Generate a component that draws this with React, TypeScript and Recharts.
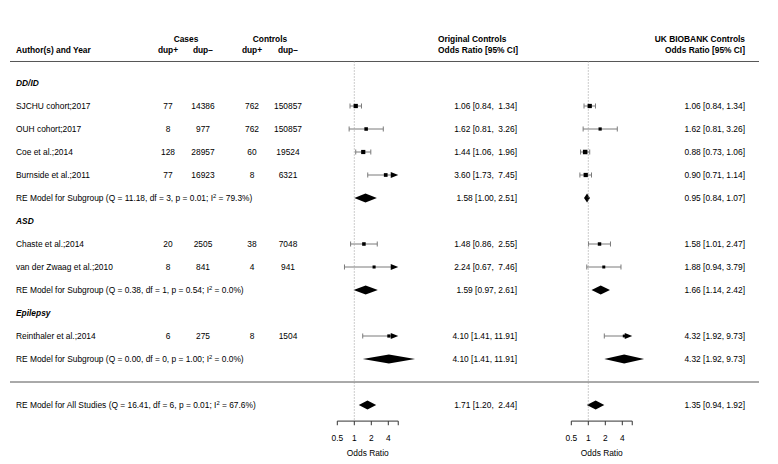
import React from 'react';
import { ComposedChart, XAxis, YAxis, Scatter, ReferenceArea, ReferenceLine } from 'recharts';

// ---- data ----
const GROUPS = ['DD/ID', 'ASD', 'Epilepsy'];

const STUDIES = [
  'SJCHU cohort;2017',
  'OUH cohort;2017',
  'Coe et al.;2014',
  'Burnside et al.;2011',
  'Chaste et al.;2014',
  'van der Zwaag et al.;2010',
  'Reinthaler et al.;2014',
];
const STUDY_GROUP = ['DD/ID', 'DD/ID', 'DD/ID', 'DD/ID', 'ASD', 'ASD', 'Epilepsy'];

const CASE_DUP_POS = [77, 8, 128, 77, 20, 8, 6];
const CASE_DUP_NEG = [14386, 977, 28957, 16923, 2505, 841, 275];
const CTRL_DUP_POS = [762, 762, 60, 8, 38, 4, 8];
const CTRL_DUP_NEG = [150857, 150857, 19524, 6321, 7048, 941, 1504];

// Original controls
const ORIG_OR = [1.06, 1.62, 1.44, 3.6, 1.48, 2.24, 4.1];
const ORIG_LO = [0.84, 0.81, 1.06, 1.73, 0.86, 0.67, 1.41];
const ORIG_HI = [1.34, 3.26, 1.96, 7.45, 2.55, 7.46, 11.91];
const ORIG_WEIGHT = [22, 13, 21, 15, 13, 7, 9];
const ORIG_GROUP_OR = [1.58, 1.59, 4.1];
const ORIG_GROUP_LO = [1.0, 0.97, 1.41];
const ORIG_GROUP_HI = [2.51, 2.61, 11.91];
const ORIG_ALL = [1.71, 1.2, 2.44];

// UK Biobank controls
const UKB_OR = [1.06, 1.62, 0.88, 0.9, 1.58, 1.88, 4.32];
const UKB_LO = [0.84, 0.81, 0.73, 0.71, 1.01, 0.94, 1.92];
const UKB_HI = [1.34, 3.26, 1.06, 1.14, 2.47, 3.79, 9.73];
const UKB_WEIGHT = [22, 9, 25, 22, 12, 6, 4];
const UKB_GROUP_OR = [0.95, 1.66, 4.32];
const UKB_GROUP_LO = [0.84, 1.14, 1.92];
const UKB_GROUP_HI = [1.07, 2.42, 9.73];
const UKB_ALL = [1.35, 0.94, 1.92];

// heterogeneity (subgroups, then overall)
const GROUP_Q = [11.18, 0.38, 0.0];
const GROUP_DF = [3, 1, 0];
const GROUP_P = [0.01, 0.54, 1.0];
const GROUP_I2 = [79.3, 0.0, 0.0];
const ALL_HET = { q: 16.41, df: 6, p: 0.01, i2: 67.6 };

const AXIS_TICKS = [0.5, 1, 2, 4];
const AXIS_MIN = 0.5;
const AXIS_MAX = 6;

// ---- layout ----
const W = 778;
const H = 464;
const PLOT_L = 10;
const PLOT_R = 759;
const ROW_PX = 23;
const ROW0_PX = 83;
const Y_DOMAIN = [-ROW0_PX / ROW_PX, (H - ROW0_PX) / ROW_PX];
const PX_PER_DOUBLING = 17;
const FONT = '"Liberation Sans", Arial, Helvetica, sans-serif';
const FS = 8.4;
const LABEL_X = 16;
const COL_X = [168, 203, 252, 288];
const CI_COLOR = '#7a7a7a';

const logDomain = (oneAt: number) => [
  2 ** (-(oneAt - PLOT_L) / PX_PER_DOUBLING),
  2 ** ((PLOT_R - oneAt) / PX_PER_DOUBLING),
];

const PANELS = [
  {
    id: 'orig', oneAt: 354.3, ciRight: 517, pad: 5,
    or: ORIG_OR, lo: ORIG_LO, hi: ORIG_HI, w: ORIG_WEIGHT,
    gor: ORIG_GROUP_OR, glo: ORIG_GROUP_LO, ghi: ORIG_GROUP_HI, all: ORIG_ALL,
  },
  {
    id: 'ukb', oneAt: 588.3, ciRight: 745, pad: 4,
    or: UKB_OR, lo: UKB_LO, hi: UKB_HI, w: UKB_WEIGHT,
    gor: UKB_GROUP_OR, glo: UKB_GROUP_LO, ghi: UKB_GROUP_HI, all: UKB_ALL,
  },
];

// ---- rows ----
type Row = { pos: number; kind: 'group' | 'study' | 'sub' | 'all' | 'head1' | 'head2'; i: number };
const rows: Row[] = [];
const studyPos: number[] = [];
const groupPos: number[] = [];
let cur = 0;
GROUPS.forEach((g, gi) => {
  rows.push({ pos: cur++, kind: 'group', i: gi });
  STUDY_GROUP.forEach((sg, si) => {
    if (sg === g) {
      studyPos[si] = cur;
      rows.push({ pos: cur++, kind: 'study', i: si });
    }
  });
  groupPos[gi] = cur;
  rows.push({ pos: cur++, kind: 'sub', i: gi });
});
const SEP_POS = cur;
const ALL_POS = cur + 1;
const AXIS_POS = ALL_POS + 0.7;
const TICK_LEN = 0.18;
const HEAD_LINE = -0.935;
rows.push({ pos: ALL_POS, kind: 'all', i: 0 });
rows.push({ pos: -1.913, kind: 'head1', i: 0 });
rows.push({ pos: -1.435, kind: 'head2', i: 0 });

const fmt = (e: number, l: number, h: number, pad: number) =>
  `${e.toFixed(2)} [${l.toFixed(2)}, ${h.toFixed(2).padStart(pad)}]`;

const reLabel = (title: string, q: number, df: number, p: number, i2: number) => (
  <>
    {`RE Model for ${title} (Q = ${q.toFixed(2)}, df = ${df}, p = ${p.toFixed(2)}; I`}
    <tspan dy={-3.2} fontSize={5.8}>2</tspan>
    <tspan dy={3.2}>{` = ${i2.toFixed(1)}%)`}</tspan>
  </>
);

const T = (p: any) => (
  <text fontFamily={FONT} fontSize={FS} fill="#000" dy="0.36em" xmlSpace="preserve" style={{ whiteSpace: 'pre' }} {...p} />
);

const RowText = (props: any) => {
  const { y, payload } = props;
  const row = rows.find((r) => Math.abs(r.pos - payload.value) < 1e-6);
  if (!row) return null;
  const bold = { fontWeight: 'bold' } as const;
  if (row.kind === 'head1') {
    return (
      <g>
        <T x={186} y={y} textAnchor="middle" {...bold}>Cases</T>
        <T x={270} y={y} textAnchor="middle" {...bold}>Controls</T>
        <T x={438} y={y} {...bold}>Original Controls</T>
        <T x={745} y={y} textAnchor="end" {...bold}>UK BIOBANK Controls</T>
      </g>
    );
  }
  if (row.kind === 'head2') {
    return (
      <g>
        <T x={LABEL_X} y={y} {...bold}>Author(s) and Year</T>
        {['dup+', 'dup\u2212', 'dup+', 'dup\u2212'].map((t, k) => (
          <T key={k} x={COL_X[k]} y={y} textAnchor="middle" {...bold}>{t}</T>
        ))}
        <T x={438} y={y} {...bold}>Odds Ratio [95% CI]</T>
        <T x={745} y={y} textAnchor="end" {...bold}>Odds Ratio [95% CI]</T>
      </g>
    );
  }
  if (row.kind === 'group') {
    return <T x={LABEL_X} y={y} fontWeight="bold" fontStyle="italic">{GROUPS[row.i]}</T>;
  }
  if (row.kind === 'study') {
    const i = row.i;
    const counts = [CASE_DUP_POS[i], CASE_DUP_NEG[i], CTRL_DUP_POS[i], CTRL_DUP_NEG[i]];
    return (
      <g>
        <T x={LABEL_X} y={y}>{STUDIES[i]}</T>
        {counts.map((c, k) => (
          <T key={k} x={COL_X[k]} y={y} textAnchor="middle">{String(c)}</T>
        ))}
        {PANELS.map((p) => (
          <T key={p.id} x={p.ciRight} y={y} textAnchor="end">{fmt(p.or[i], p.lo[i], p.hi[i], p.pad)}</T>
        ))}
      </g>
    );
  }
  if (row.kind === 'sub') {
    const g = row.i;
    return (
      <g>
        <T x={LABEL_X} y={y}>{reLabel('Subgroup', GROUP_Q[g], GROUP_DF[g], GROUP_P[g], GROUP_I2[g])}</T>
        {PANELS.map((p) => (
          <T key={p.id} x={p.ciRight} y={y} textAnchor="end">{fmt(p.gor[g], p.glo[g], p.ghi[g], 0)}</T>
        ))}
      </g>
    );
  }
  return (
    <g>
      <T x={LABEL_X} y={y}>{reLabel('All Studies', ALL_HET.q, ALL_HET.df, ALL_HET.p, ALL_HET.i2)}</T>
      {PANELS.map((p) => (
        <T key={p.id} x={p.ciRight} y={y} textAnchor="end">{fmt(p.all[0], p.all[1], p.all[2], p.pad)}</T>
      ))}
    </g>
  );
};

const whiskerShape = (lo: number, hi: number) => (p: any) => {
  const { x, y, width, height } = p;
  const cy = y + height / 2;
  const x2 = x + width;
  const arrow = hi > AXIS_MAX;
  return (
    <g>
      <line x1={x} x2={arrow ? x2 - 6 : x2} y1={cy} y2={cy} stroke={CI_COLOR} strokeWidth={1} />
      {lo >= AXIS_MIN && <line x1={x} x2={x} y1={y} y2={y + height} stroke={CI_COLOR} strokeWidth={1} />}
      {arrow ? (
        <polygon points={`${x2},${cy} ${x2 - 7.5},${cy - 3} ${x2 - 7.5},${cy + 3}`} fill="#000" />
      ) : (
        <line x1={x2} x2={x2} y1={y} y2={y + height} stroke={CI_COLOR} strokeWidth={1} />
      )}
    </g>
  );
};

const diamondShape = (est: number, lo: number, hi: number) => (p: any) => {
  const { x, y, width, height } = p;
  const f = Math.log(est / lo) / Math.log(hi / lo);
  const ex = x + f * width;
  const cy = y + height / 2;
  return <polygon points={`${x},${cy} ${ex},${y} ${x + width},${cy} ${ex},${y + height}`} fill="#000" />;
};

const squareShape = (p: any) => {
  const s = 2.5 + p.payload.w * 0.08;
  return <rect x={p.cx - s / 2} y={p.cy - s / 2} width={s} height={s} fill="#000" />;
};

const vbOf = (vb: any) => ({
  x: vb.x ?? Math.min(vb.x1, vb.x2),
  y: vb.y ?? Math.min(vb.y1, vb.y2),
  width: vb.width ?? Math.abs(vb.x2 - vb.x1),
});

const CAP = 0.11;
const DIA = 0.2;
const Y_AXIS_W = 1;

export default function App() {
  const tickValues = rows.map((r) => r.pos);
  return (
    <div style={{ position: 'absolute', left: 0, top: 0, width: W, height: H, background: '#fff' }}>
      <ComposedChart width={W} height={H} margin={{ top: 0, right: W - PLOT_R, bottom: 0, left: PLOT_L - Y_AXIS_W }}>
        {PANELS.map((p) => (
          <XAxis
            key={p.id}
            xAxisId={p.id}
            type="number"
            scale="log"
            dataKey="x"
            domain={logDomain(p.oneAt)}
            allowDataOverflow
            hide
          />
        ))}
        <YAxis
          type="number"
          dataKey="y"
          domain={Y_DOMAIN}
          reversed
          allowDataOverflow
          ticks={tickValues}
          interval={0}
          width={Y_AXIS_W}
          axisLine={false}
          tickLine={false}
          tick={RowText}
        />

        <ReferenceLine xAxisId="orig" y={HEAD_LINE} stroke="#555" strokeWidth={1} />
        <ReferenceLine xAxisId="orig" y={SEP_POS} stroke="#555" strokeWidth={1} />

        {PANELS.map((p) => (
          <React.Fragment key={p.id}>
            <ReferenceLine
              xAxisId={p.id}
              segment={[{ x: 1, y: HEAD_LINE }, { x: 1, y: AXIS_POS }]}
              stroke="#999"
              strokeDasharray="1 2"
            />
            {STUDIES.map((_, i) => (
              <ReferenceArea
                key={`w${i}`}
                xAxisId={p.id}
                x1={Math.max(p.lo[i], AXIS_MIN)}
                x2={Math.min(p.hi[i], AXIS_MAX)}
                y1={studyPos[i] - CAP}
                y2={studyPos[i] + CAP}
                shape={whiskerShape(p.lo[i], p.hi[i])}
              />
            ))}
            {GROUPS.map((_, g) => (
              <ReferenceArea
                key={`d${g}`}
                xAxisId={p.id}
                x1={p.glo[g]}
                x2={p.ghi[g]}
                y1={groupPos[g] - DIA}
                y2={groupPos[g] + DIA}
                shape={diamondShape(p.gor[g], p.glo[g], p.ghi[g])}
              />
            ))}
            <ReferenceArea
              xAxisId={p.id}
              x1={p.all[1]}
              x2={p.all[2]}
              y1={ALL_POS - DIA}
              y2={ALL_POS + DIA}
              shape={diamondShape(p.all[0], p.all[1], p.all[2])}
            />
            <ReferenceLine
              xAxisId={p.id}
              segment={[{ x: AXIS_MIN, y: AXIS_POS }, { x: AXIS_MAX, y: AXIS_POS }]}
              stroke="#333"
              strokeWidth={1}
              label={(lp: any) => {
                const v = vbOf(lp.viewBox);
                return (
                  <text x={v.x + v.width / 2} y={v.y + 35} textAnchor="middle" fontFamily={FONT} fontSize={FS} fill="#000">
                    Odds Ratio
                  </text>
                );
              }}
            />
            {[...AXIS_TICKS, AXIS_MAX].map((t) => (
              <ReferenceLine
                key={`t${t}`}
                xAxisId={p.id}
                segment={[{ x: t, y: AXIS_POS }, { x: t, y: AXIS_POS + TICK_LEN }]}
                stroke="#333"
                strokeWidth={1}
                label={(lp: any) => {
                  if (!AXIS_TICKS.includes(t)) return null;
                  const v = vbOf(lp.viewBox);
                  return (
                    <text x={v.x} y={v.y + 20} textAnchor="middle" fontFamily={FONT} fontSize={FS} fill="#000">
                      {String(t)}
                    </text>
                  );
                }}
              />
            ))}
            <Scatter
              xAxisId={p.id}
              data={STUDIES.map((_, i) => ({ x: p.or[i], y: studyPos[i], w: p.w[i] }))}
              shape={squareShape}
              isAnimationActive={false}
            />
          </React.Fragment>
        ))}
      </ComposedChart>
    </div>
  );
}
